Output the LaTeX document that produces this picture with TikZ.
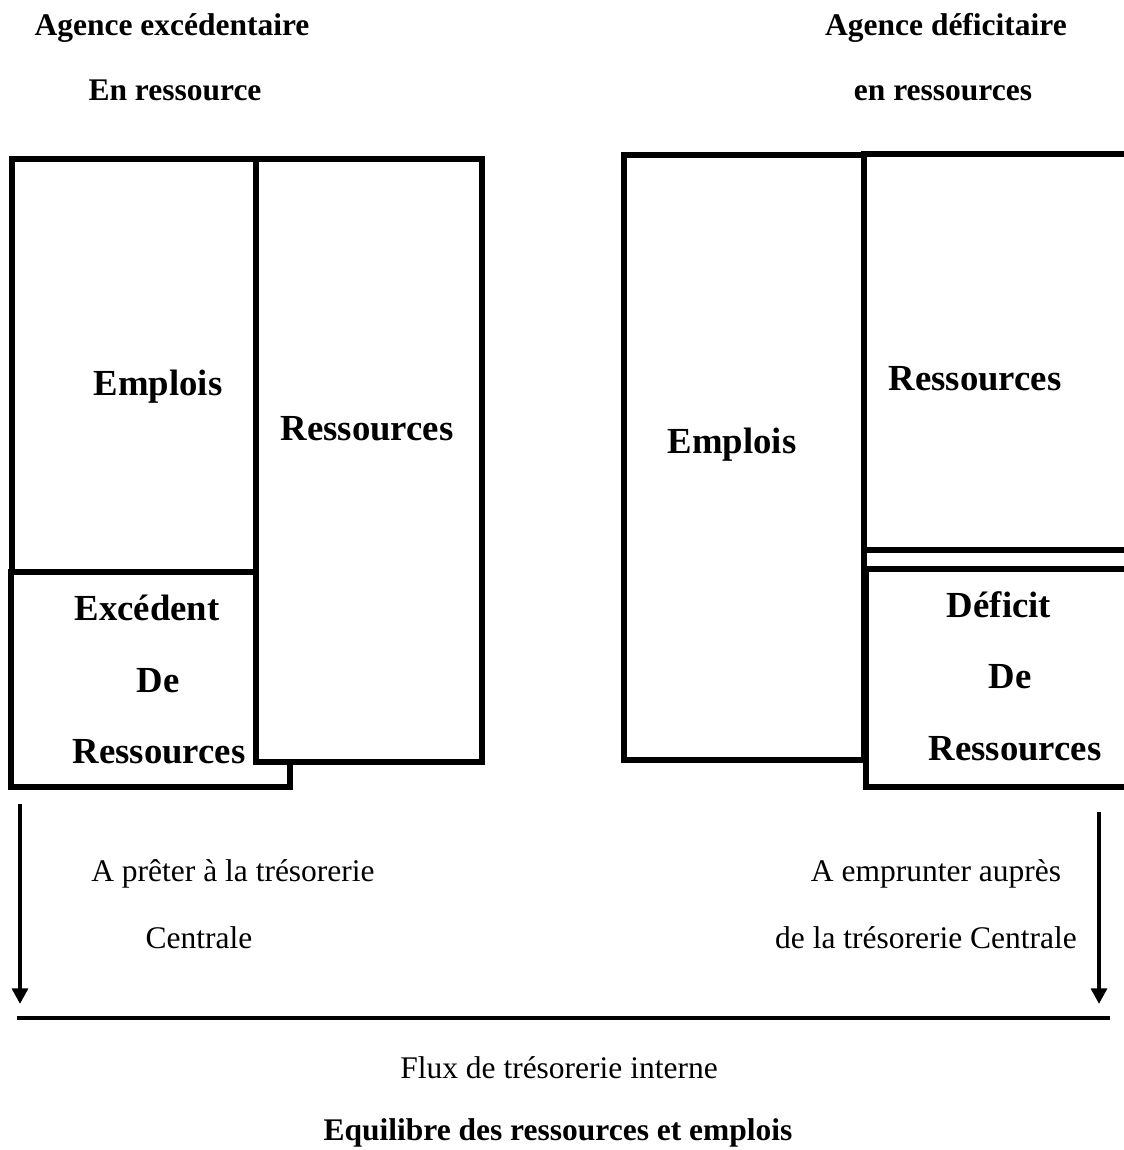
\documentclass[tikz,border=0pt]{standalone}
\usepackage{fontspec}
\setmainfont{Liberation Serif}
\usetikzlibrary{arrows.meta}

\begin{document}
\begin{tikzpicture}[
            >={Triangle[length=6pt,width=6pt]},
            x=0.381pt, y=-0.381pt,
            boxline/.style={line width=2.3pt, fill=white},
            flowline/.style={line width=1.5pt},
            headtext/.style={anchor=base, font=\bfseries\fontsize{12}{14}\selectfont},
            boxtext/.style={anchor=base, font=\bfseries\fontsize{14}{17}\selectfont},
            flowtext/.style={anchor=base, font=\fontsize{12}{14}\selectfont}
        ]
        \useasboundingbox (0,0) rectangle (1124,1150);

        %Titles

        \node[headtext] (surplus_title) at (172,35) {Agence excédentaire};
        \node[headtext] (surplus_sub) at (175,100) {En ressource};
        \node[headtext] (deficit_title) at (946,35) {Agence déficitaire};
        \node[headtext] (deficit_sub) at (943,100) {en ressources};

        %% Agence excedentaire

        \draw[boxline] (12,159) rectangle (257,572);
        \draw[boxline] (11,572) rectangle (290,787);
        \draw[boxline] (256,159) rectangle (482,762);

        \node[boxtext] (surplus_uses) at (158,395) {Emplois};
        \node[boxtext] (surplus_res) at (367,440) {Ressources};
        \node[boxtext] (surplus_a) at (147,620) {Excédent};
        \node[boxtext] (surplus_b) at (158,692) {De};
        \node[boxtext] (surplus_c) at (159,763) {Ressources};

        %% Agence deficitaire

        \draw[boxline] (624,155) rectangle (864,760);
        \draw[boxline] (864,154) rectangle (1140,550);
        \draw[boxline] (866,569) rectangle (1140,787);

        \node[boxtext] (deficit_uses) at (732,453) {Emplois};
        \node[boxtext] (deficit_res) at (975,390) {Ressources};
        \node[boxtext] (deficit_a) at (999,617) {Déficit};
        \node[boxtext] (deficit_b) at (1010,688) {De};
        \node[boxtext] (deficit_c) at (1015,760) {Ressources};

        %% Flux

        \coordinate (lend_top) at (20,804);
        \coordinate (lend_tip) at (20,1004);
        \coordinate (borrow_top) at (1099,812);
        \coordinate (borrow_tip) at (1099,1004);
        \coordinate (flow_start) at (17,1018);
        \coordinate (flow_end) at (1110,1018);

        \draw[flowline,->] (lend_top) -- (lend_tip);
        \draw[flowline,->] (borrow_top) -- (borrow_tip);
        \draw[flowline] (flow_start) -- (flow_end);

        \node[flowtext] (lend_a) at (233,881) {A prêter à la trésorerie};
        \node[flowtext] (lend_b) at (199,948) {Centrale};
        \node[flowtext] (borrow_a) at (936,881) {A emprunter auprès};
        \node[flowtext] (borrow_b) at (926,948) {de la trésorerie Centrale};
        \node[flowtext] (flow_label) at (559,1078) {Flux de trésorerie interne};
        \node[headtext] (balance) at (558,1140) {Equilibre des ressources et emplois};

    \end{tikzpicture}
\end{document}
